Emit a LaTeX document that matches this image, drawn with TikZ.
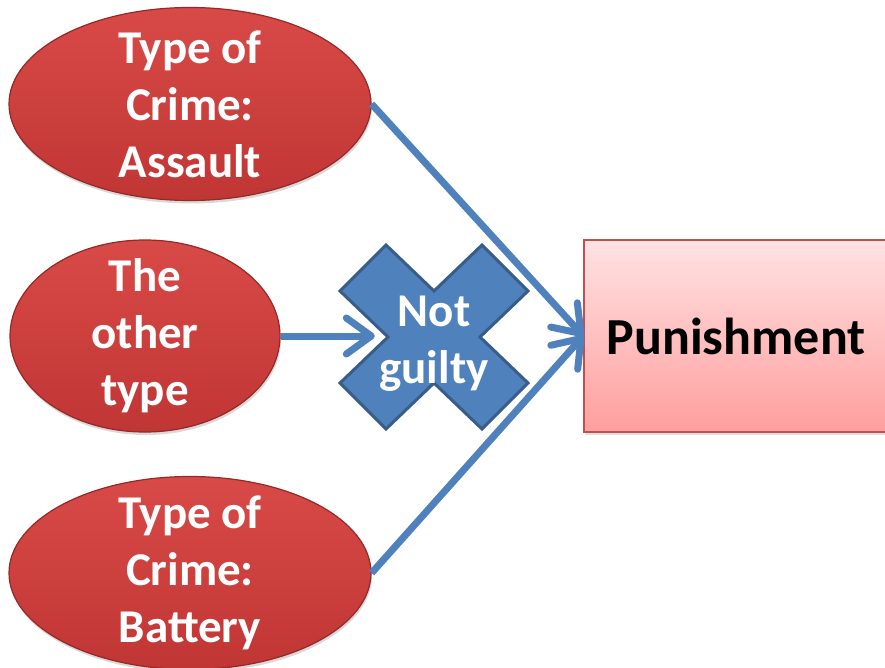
\documentclass[tikz,border=0pt]{standalone}
\usepackage{fontspec}
\setmainfont{Carlito}
\usetikzlibrary{shapes.geometric, arrows.meta, shadows}
\definecolor{crimeTop}{RGB}{216,74,72}
\definecolor{crimeBottom}{RGB}{192,54,52}
\definecolor{crimeEdge}{RGB}{150,40,38}
\definecolor{flowBlue}{RGB}{79,129,189}
\definecolor{markEdge}{RGB}{56,93,138}
\definecolor{penaltyTop}{RGB}{255,226,226}
\definecolor{penaltyBottom}{RGB}{255,158,158}
\definecolor{penaltyEdge}{RGB}{192,80,77}
\tikzset{
>={Straight Barb[round, length=25pt, width=36pt]}, % open chevron heads
flow/.style={->, draw=flowBlue, line width=7pt}, % the blue connectors
crime/.style={ellipse, draw=crimeEdge, line width=1.2pt, top color=crimeTop, bottom color=crimeBottom,
  text=white, align=center, inner xsep=0pt, inner ysep=-16pt,
  font=\bfseries\fontsize{47}{57}\selectfont,
  drop shadow={opacity=0.3, shadow xshift=1pt, shadow yshift=-3pt}}, % red ovals
xmark/.style={fill=flowBlue, draw=markEdge, line width=3pt, line join=miter}, % the big cross
penalty/.style={rectangle, draw=penaltyEdge, line width=1.5pt, top color=penaltyTop, bottom color=penaltyBottom,
  font=\bfseries\fontsize{52}{62}\selectfont,
  drop shadow={opacity=0.25, shadow xshift=1pt, shadow yshift=-3pt}}, % result box
}

\begin{document}
\begin{tikzpicture}[x=1pt, y=-1pt]
        \useasboundingbox (0,0) rectangle (885,668);
        \node[crime, minimum width=362pt, minimum height=193pt] (assault) at (190,104) {Type of\\Crime:\\Assault};
        \node[crime, minimum width=270pt, minimum height=192pt] (other) at (145,336) {The\\other\\type};
        \node[crime, minimum width=362pt, minimum height=193pt] (battery) at (190,573) {Type of\\Crime:\\Battery};
        \node[penalty, minimum width=304pt, minimum height=192pt] (punish) at (736,336) {Punishment};
        % cross drawn first, its text on top
        \coordinate (xc) at (434,337);
        \draw[xmark] ([shift={(0,-46)}]xc) -- ++(48,-46) -- ++(46,46) -- ++(-48,46)
                -- ++(48,46) -- ++(-46,46) -- ++(-48,-46) -- ++(-48,46)
                -- ++(-46,-46) -- ++(48,-46) -- ++(-48,-46) -- ++(46,-46) -- cycle;
        \node[text=white, align=center, inner sep=0pt, minimum width=118pt,
                font=\bfseries\fontsize{47}{57}\selectfont] (cross) at (434,344) {Not\\guilty};
        \draw[flow] (assault.east) -- (punish.west);
        \draw[flow] (other.east) -- (other.east -| cross.west);
        \draw[flow] (battery.east) -- (punish.west);
    \end{tikzpicture}
\end{document}
